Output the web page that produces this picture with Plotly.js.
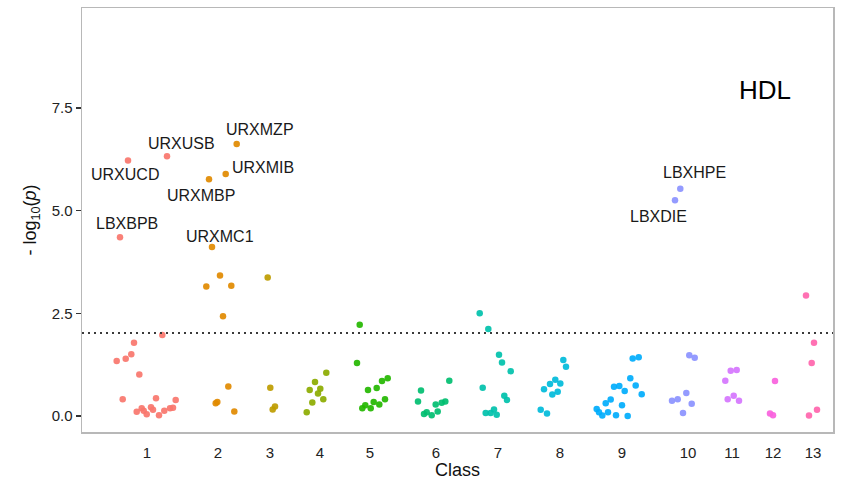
<!DOCTYPE html>
<html>
<head>
<meta charset="utf-8">
<script src="https://cdn.plot.ly/plotly-3.0.1.min.js"></script>
<style>html,body{margin:0;padding:0;background:#fff;}#chart{width:851px;height:487px;}</style>
</head>
<body>
<div id="chart"></div>
<script>
// Class tick labels and their positions along the variable axis
const classLabels = ['1','2','3','4','5','6','7','8','9','10','11','12','13'];
const classCenters = [65, 136, 188, 238, 288, 354, 416, 478, 540, 606, 650, 691, 731];

// Per-class variable positions and -log10(p) values
const classPos = [
  [46, 85, 38, 80.3, 52, 34.7, 43.7, 49.3, 57.3, 40.7, 74, 93.7, 54.7, 59.7, 61.7, 64.7, 69, 71, 77, 82.3, 88, 91],
  [154.7, 143.7, 127, 130, 138, 124.3, 149.3, 141, 146.3, 133.7, 135.3, 152.3],
  [185.7, 188.3, 193, 190.7],
  [244.3, 233, 227.7, 238.3, 236, 241.3, 230.3, 224.7],
  [277.7, 275, 305.7, 300, 294.7, 286, 303, 291.7, 297.3, 283.3, 280.3, 288.7],
  [367.3, 339, 336, 353.7, 359.7, 363.3, 355.7, 344.7, 342, 349.7],
  [397.7, 406.3, 417, 420, 428.7, 400.7, 422.3, 425, 403.7, 408.7, 412, 414.7],
  [481.3, 484, 473.3, 468, 478.3, 462, 475.7, 470.3, 458.7, 465],
  [550.7, 556.7, 548.3, 532, 537.3, 553.7, 542.7, 559.7, 528.7, 523.7, 540, 514.7, 517, 520.3, 526, 534, 545.7],
  [598.3, 593, 607.3, 612.7, 604.3, 590, 595.7, 609.7, 601],
  [648.7, 654.7, 643.3, 651.7, 645.7, 657],
  [693, 688, 691],
  [724, 732, 729.7, 735, 727]
];
const classLogP = [
  [6.22, 6.32, 4.35, 1.97, 1.78, 1.34, 1.39, 1.50, 1.01, 0.41, 0.43, 0.39, 0.10, 0.19, 0.13, 0.04, 0.21, 0.15, 0.02, 0.13, 0.19, 0.20],
  [6.62, 5.89, 5.76, 4.11, 3.42, 3.15, 3.17, 2.43, 0.72, 0.31, 0.34, 0.11],
  [3.37, 0.69, 0.23, 0.16],
  [1.05, 0.83, 0.63, 0.66, 0.55, 0.41, 0.33, 0.09],
  [2.22, 1.29, 0.92, 0.85, 0.68, 0.63, 0.41, 0.34, 0.28, 0.26, 0.19, 0.19],
  [0.86, 0.62, 0.35, 0.28, 0.32, 0.35, 0.11, 0.09, 0.05, 0.02],
  [2.50, 2.12, 1.49, 1.30, 1.09, 0.69, 0.49, 0.39, 0.07, 0.07, 0.16, 0.03],
  [1.36, 1.20, 0.88, 0.78, 0.79, 0.65, 0.59, 0.52, 0.15, 0.06],
  [1.40, 1.43, 0.92, 0.71, 0.73, 0.74, 0.61, 0.53, 0.40, 0.31, 0.26, 0.17, 0.09, 0.01, 0.09, 0.02, 0.00],
  [5.53, 5.25, 1.48, 1.42, 0.56, 0.37, 0.41, 0.30, 0.07],
  [1.10, 1.12, 0.86, 0.49, 0.41, 0.37],
  [0.85, 0.06, 0.02],
  [2.93, 1.78, 1.29, 0.15, 0.01]
];

// Labelled hits
const hitNames = ['URXUCD', 'URXUSB', 'LBXBPB', 'URXMZP', 'URXMIB', 'URXMBP', 'URXMC1', 'LBXHPE', 'LBXDIE'];
const hitPos   = [46, 85, 38, 154.7, 143.7, 127, 130, 598.3, 593];
const hitLogP  = [6.22, 6.32, 4.35, 6.62, 5.89, 5.76, 4.11, 5.53, 5.25];

const threshold = 2.02;
const panelTitle = 'HDL';

// Styling
const colors = ['#F8766D','#E18A00','#BE9C00','#8CAB00','#24B700','#00BE70','#00C1AB',
                '#00BBDA','#00ACFC','#8B93FF','#D575FE','#F962DD','#FF65AC'];
const labelShift = {
  URXUCD: [-3, 14], URXUSB: [14, -13], LBXBPB: [7, -14], URXMZP: [23, -14],
  URXMIB: [37, -6], URXMBP: [-8, 16], URXMC1: [8, -11], LBXHPE: [14, -16], LBXDIE: [-17, 16]
};
const font = 'Liberation Sans, Arial, Helvetica, sans-serif';

const traces = classPos.map((xs, i) => ({
  type: 'scatter', mode: 'markers', x: xs, y: classLogP[i],
  marker: {color: colors[i], size: 6.5, opacity: 0.92},
  hoverinfo: 'x+y', showlegend: false
}));

traces.push({
  type: 'scatter', mode: 'lines', x: [0, 751], y: [threshold, threshold],
  line: {color: '#3a3a3a', width: 2, dash: '2px,4px'}, hoverinfo: 'skip', showlegend: false
});

const annotations = hitNames.map((n, i) => ({
  x: hitPos[i], y: hitLogP[i], xref: 'x', yref: 'y', text: n, showarrow: false,
  xanchor: 'center', yanchor: 'middle',
  xshift: labelShift[n][0], yshift: -labelShift[n][1],
  font: {family: font, size: 16, color: '#1a1a1a'}
}));
annotations.push({
  x: 0.909, y: 0.807, xref: 'paper', yref: 'paper', text: panelTitle, showarrow: false,
  xanchor: 'center', yanchor: 'middle',
  font: {family: font, size: 26, color: '#000'}
});

const layout = {
  width: 851, height: 487,
  margin: {l: 82, r: 18, t: 8, b: 55},
  paper_bgcolor: '#fff', plot_bgcolor: '#fff',
  font: {family: font, color: '#1a1a1a'},
  xaxis: {
    range: [0, 751], tickmode: 'array', tickvals: classCenters, ticktext: classLabels,
    ticks: 'outside', ticklen: 6, tickcolor: 'rgba(0,0,0,0)',
    tickfont: {family: font, size: 15, color: '#222'},
    showgrid: false, zeroline: false,
    showline: true, mirror: true, linecolor: '#b8b8b8', linewidth: 1.5,
    title: {text: 'Class', font: {family: font, size: 18, color: '#111'}, standoff: 4}
  },
  yaxis: {
    range: [-0.39, 9.93], tickvals: [0, 2.5, 5, 7.5], ticktext: ['0.0', '2.5', '5.0', '7.5'],
    ticks: 'outside', ticklen: 5, tickwidth: 1.5, tickcolor: '#333',
    tickfont: {family: font, size: 15, color: '#222'},
    showgrid: false, zeroline: false,
    showline: true, mirror: true, linecolor: '#b8b8b8', linewidth: 1.5,
    title: {text: '- log<sub>10</sub>(<i>p</i>)', font: {family: font, size: 18, color: '#111'}, standoff: 10}
  },
  annotations: annotations
};

Plotly.newPlot('chart', traces, layout, {displayModeBar: false, staticPlot: true});
</script>
</body>
</html>
